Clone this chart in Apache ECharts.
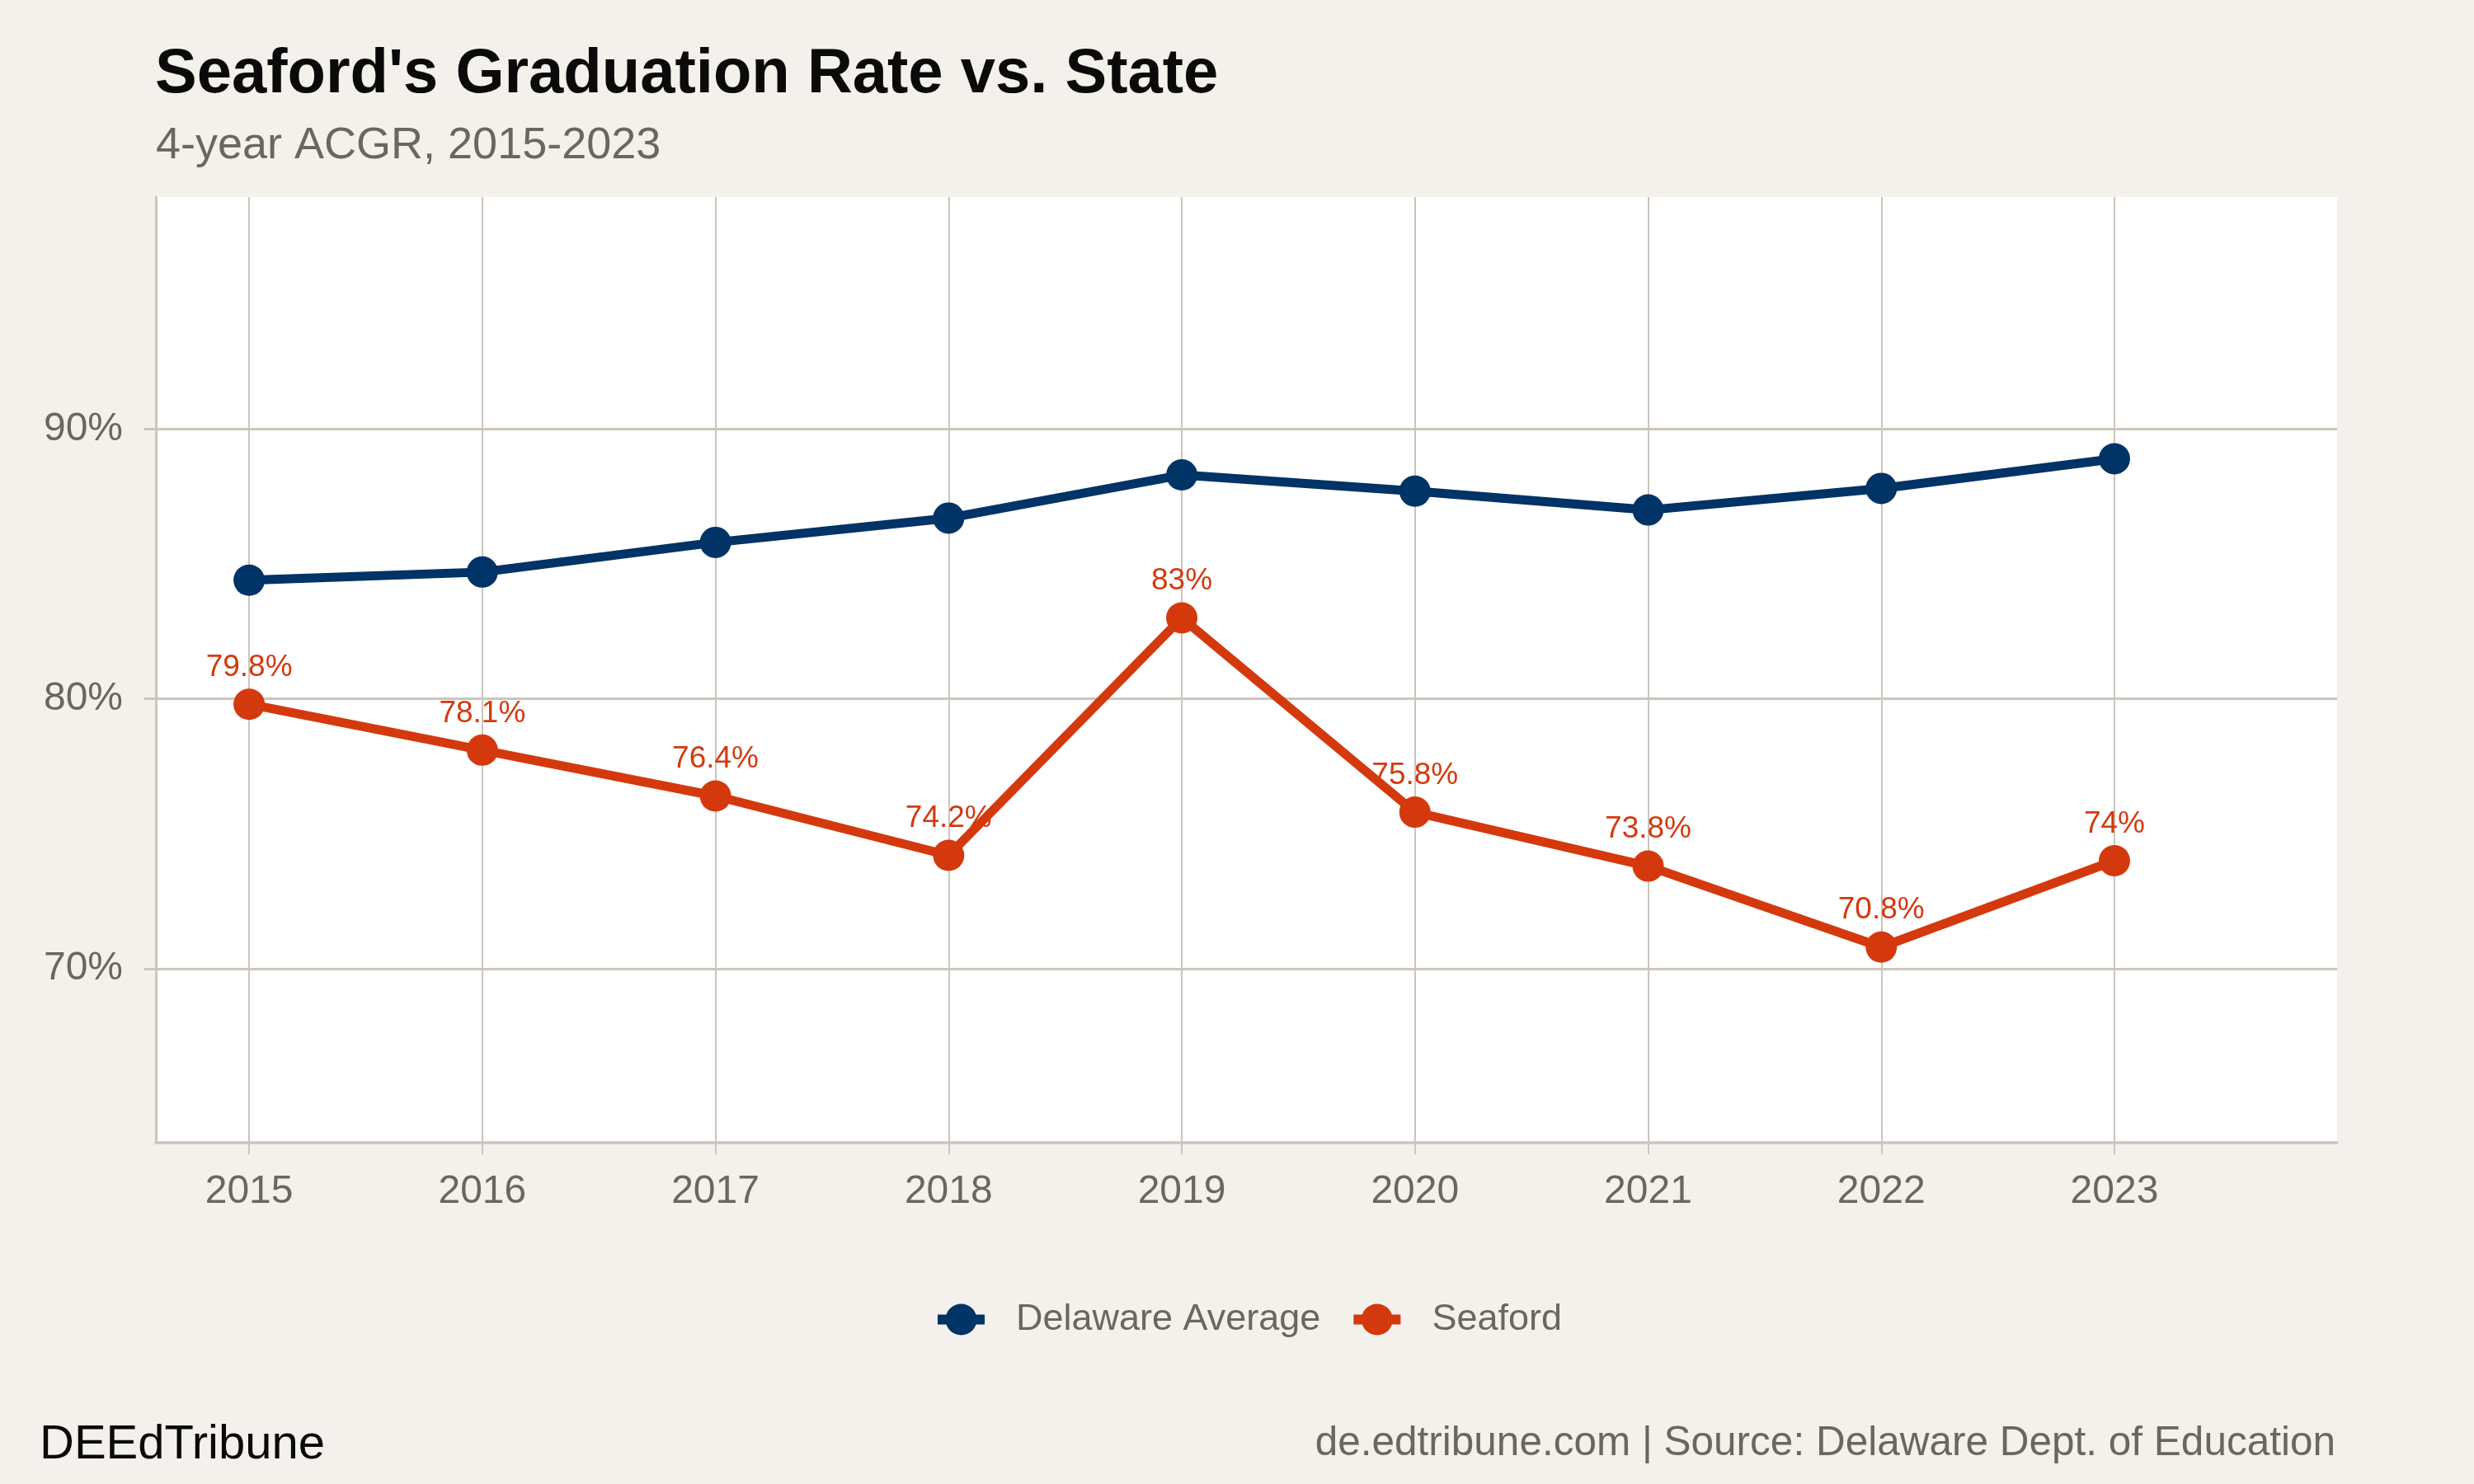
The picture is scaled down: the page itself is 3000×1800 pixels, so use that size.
<!DOCTYPE html>
<html>
<head>
    <meta charset="UTF-8">
    <title>Seaford's Graduation Rate vs. State</title>
    <script src="https://cdn.jsdelivr.net/npm/echarts@6.0.0/dist/echarts.min.js"></script>
    <style>
        html, body { margin: 0; padding: 0; background: #f4f1ec; }
        #chart { width: 3000px; height: 1800px; }
    </style>
</head>
<body>
    <div id="chart"></div>
    <script>
        // data
        const years = [2015, 2016, 2017, 2018, 2019, 2020, 2021, 2022, 2023];
        const delaware = [84.4, 84.7, 85.8, 86.7, 88.3, 87.7, 87.0, 87.8, 88.9];
        const seaford = [79.8, 78.1, 76.4, 74.2, 83, 75.8, 73.8, 70.8, 74];
        const yTicks = [70, 80, 90];

        const FONT = '"Liberation Sans", Arial, Helvetica, sans-serif';
        const GRID_COLOR = '#cbc5bc';
        const TEXT_GRAY = '#6b6661';
        const NAVY = '#003366';
        const ORANGE = '#d4390e';

        // legend key: line segment with a dot in the middle (57 x 38 box)
        const KEY_ICON = 'path://M0,13L11,13L11,25L0,25Z' +
            'M46,13L57,13L57,25L46,25Z' +
            'M28.5,0A19,19,0,1,1,28.5,38A19,19,0,1,1,28.5,0Z';

        const pairs = vals => years.map((y, i) => [y, vals[i]]);

        const chart = echarts.init(document.getElementById('chart'));

        const option = {
            backgroundColor: '#f4f1ec',
            textStyle: { fontFamily: FONT },
            title: [{
                text: "Seaford's Graduation Rate vs. State",
                left: 188, top: 53, padding: 0,
                textStyle: { fontFamily: FONT, fontSize: 76, lineHeight: 76, fontWeight: 'bold', color: '#0a0a0a' }
            }, {
                text: '4-year ACGR, 2015-2023',
                left: 189, top: 150, padding: 0,
                textStyle: { fontFamily: FONT, fontSize: 54, lineHeight: 54, fontWeight: 'normal', color: TEXT_GRAY }
            }, {
                text: 'DEEdTribune',
                left: 48, top: 1724, padding: 0,
                textStyle: { fontFamily: FONT, fontSize: 58, lineHeight: 58, fontWeight: 'normal', color: '#0a0a0a' }
            }, {
                text: 'de.edtribune.com | Source: Delaware Dept. of Education',
                right: 168, top: 1726, padding: 0,
                textStyle: { fontFamily: FONT, fontSize: 49.5, lineHeight: 50, fontWeight: 'normal', color: TEXT_GRAY }
            }],
            legend: {
                data: ['Delaware Average', 'Seaford'],
                icon: KEY_ICON,
                left: 1132, top: 1573,
                itemWidth: 57, itemHeight: 38, itemGap: 40,
                textStyle: { fontFamily: FONT, fontSize: 45, color: TEXT_GRAY, padding: [0, 0, 0, 33] }
            },
            grid: {
                left: 189, right: 166, top: 239, bottom: 414,
                show: true, backgroundColor: '#ffffff', borderWidth: 0
            },
            xAxis: {
                type: 'value',
                min: 2014.6, max: 2023.955,
                axisLine: { show: true, lineStyle: { color: GRID_COLOR, width: 3.5 } },
                axisTick: { show: true, length: 14, customValues: years, lineStyle: { color: GRID_COLOR, width: 2 } },
                axisLabel: {
                    customValues: years, margin: 36,
                    fontFamily: FONT, fontSize: 48, color: TEXT_GRAY,
                    formatter: v => String(v)
                },
                splitLine: { show: true, lineStyle: { color: GRID_COLOR, width: 2 } }
            },
            yAxis: {
                type: 'value',
                min: 63.55, max: 98.6,
                axisLine: { show: true, lineStyle: { color: GRID_COLOR, width: 3 } },
                axisTick: { show: true, length: 14, customValues: yTicks, lineStyle: { color: GRID_COLOR, width: 3 } },
                axisLabel: {
                    customValues: yTicks, margin: 40,
                    fontFamily: FONT, fontSize: 48, color: TEXT_GRAY,
                    formatter: v => v + '%'
                },
                splitLine: { show: true, lineStyle: { color: GRID_COLOR, width: 3 } }
            },
            series: [{
                name: 'Delaware Average',
                type: 'line',
                data: pairs(delaware),
                symbol: 'circle',
                symbolSize: 38,
                color: NAVY,
                lineStyle: { color: NAVY, width: 11 },
                itemStyle: { color: NAVY },
                emphasis: { disabled: true },
                animation: false
            }, {
                name: 'Seaford',
                type: 'line',
                data: pairs(seaford),
                symbol: 'circle',
                symbolSize: 38,
                color: ORANGE,
                lineStyle: { color: ORANGE, width: 11 },
                itemStyle: { color: ORANGE },
                label: {
                    show: true, position: 'top', distance: 7,
                    fontFamily: FONT, fontSize: 37, color: ORANGE,
                    formatter: p => p.value[1] + '%'
                },
                emphasis: { disabled: true },
                animation: false
            }]
        };

        chart.setOption(option);

        window.addEventListener('resize', function() {
            chart.resize();
        });
    </script>
</body>
</html>
